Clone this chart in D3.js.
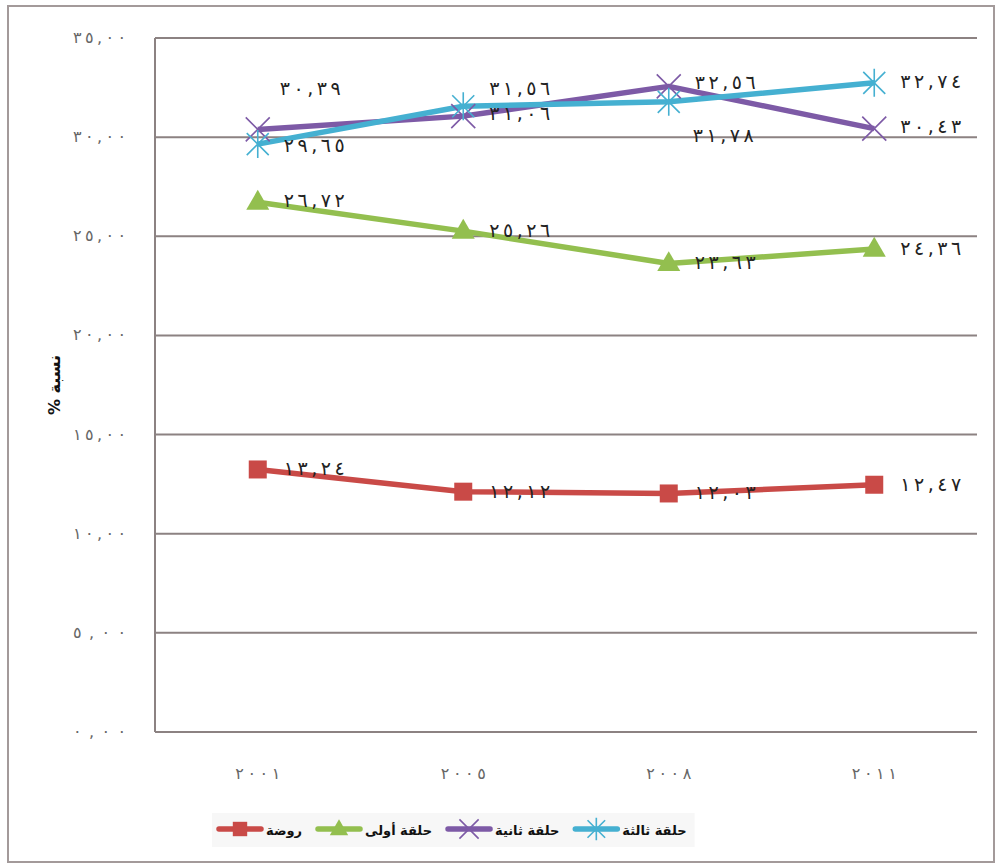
<!DOCTYPE html>
<html lang="ar">
<head>
<meta charset="UTF-8">
<title>نسبة %</title>
<script src="https://d3js.org/d3.v7.min.js"></script>
<style>
  body { margin: 0; background: #fff; }
  svg { display: block; font-family: "DejaVu Sans", sans-serif; }
  .grid line { stroke: #8c8282; stroke-width: 2; }
  .tick-label { fill: #666; font-size: 16px; }
  .val { fill: #222; font-size: 19px; }
</style>
</head>
<body>
<svg id="chart" width="1000" height="868"></svg>
<script>
// data
const years = ["2001", "2005", "2008", "2011"];
const seriesNames = ["روضة", "حلقة أولى", "حلقة ثانية", "حلقة ثالثة"];
const rawda  = [13.24, 12.12, 12.03, 12.47];
const cycle1 = [26.72, 25.26, 23.63, 24.36];
const cycle2 = [30.39, 31.06, 32.56, 30.43];
const cycle3 = [29.65, 31.56, 31.78, 32.74];
const yTicks = [0, 5, 10, 15, 20, 25, 30, 35];

// styling per series
const colors = ["#c94a47", "#93bf4f", "#7d5aa6", "#45b0d1"];
const markers = ["square", "triangle", "x", "star"];
// label offsets [dx, dy] from each point
const labelOffset = [
  [[26, 6], [26, 6], [26, 6], [26, 6]],
  [[26, 5], [26, 6], [26, 6], [26, 6]],
  [[22, -34], [26, 4], [26, 3], [26, 4]],
  [[26, 8], [26, -11], [24, 40], [26, 5]]
];

const allSeries = [rawda, cycle1, cycle2, cycle3];

const arabicDigits = "٠١٢٣٤٥٦٧٨٩";
const toArabic = s => String(s).replace(/[0-9]/g, d => arabicDigits[+d]);
const fmt = v => toArabic(d3.format(".2f")(v).replace(".", ","));

const svg = d3.select("#chart");
const margin = { left: 155, right: 23, top: 38, bottom: 136 };
const W = 1000, H = 868;

// outer frame
svg.append("rect")
  .attr("x", 8).attr("y", 6).attr("width", 986).attr("height", 856)
  .attr("fill", "none").attr("stroke", "#a39a9a").attr("stroke-width", 2);

const x = d3.scaleBand().domain(years).range([margin.left, W - margin.right]);
const y = d3.scaleLinear().domain([0, 35]).range([H - margin.bottom, margin.top]);

// gridlines
const grid = svg.append("g").attr("class", "grid");
grid.selectAll("line").data(yTicks).join("line")
  .attr("x1", margin.left).attr("x2", W - margin.right)
  .attr("y1", d => y(d)).attr("y2", d => y(d));
grid.append("line")
  .attr("x1", margin.left).attr("x2", margin.left)
  .attr("y1", y(0)).attr("y2", y(35));

// y tick labels (digits spread out like the original)
svg.append("g").selectAll("text").data(yTicks).join("text")
  .attr("class", "tick-label")
  .attr("x", 126).attr("y", d => y(d) + 5)
  .attr("text-anchor", "end")
  .attr("textLength", 53).attr("lengthAdjust", "spacing")
  .text(d => fmt(d));

// x tick labels
svg.append("g").selectAll("text").data(years).join("text")
  .attr("class", "tick-label")
  .attr("x", d => x(d) + x.bandwidth() / 2)
  .attr("y", y(0) + 47)
  .attr("text-anchor", "middle")
  .attr("textLength", 45).attr("lengthAdjust", "spacing")
  .text(d => toArabic(d));

// y axis title
svg.append("text")
  .attr("transform", `translate(60, ${y(17.5)}) rotate(-90)`)
  .attr("text-anchor", "middle")
  .attr("direction", "rtl")
  .attr("font-size", 16).attr("font-weight", "bold").attr("fill", "#111")
  .text("نسبة %");

function drawMarker(g, type, color, k = 1) {
  if (type === "square") {
    g.append("rect").attr("x", -9 * k).attr("y", -9 * k).attr("width", 18 * k).attr("height", 18 * k)
      .attr("fill", color);
  } else if (type === "triangle") {
    g.append("path").attr("d", d3.symbol(d3.symbolTriangle, 230 * k * k)()).attr("fill", color)
      .attr("transform", "translate(0,1)");
  } else if (type === "x") {
    const r = 12 * k;
    g.append("path").attr("d", `M${-r},${-r}L${r},${r}M${-r},${r}L${r},${-r}`)
      .attr("stroke", color).attr("stroke-width", 1.6).attr("fill", "none");
  } else {
    const r = 11 * k, v = 14 * k;
    g.append("path").attr("d", `M${-r},${-r}L${r},${r}M${-r},${r}L${r},${-r}M0,${-v}L0,${v}`)
      .attr("stroke", color).attr("stroke-width", 1.6).attr("fill", "none");
  }
}

const cx = d => x(d) + x.bandwidth() / 2;
const line = d3.line().x((d, i) => cx(years[i])).y(d => y(d));

allSeries.forEach((vals, s) => {
  svg.append("path").datum(vals)
    .attr("d", line)
    .attr("fill", "none")
    .attr("stroke", colors[s])
    .attr("stroke-width", 5.5)
    .attr("stroke-linejoin", "round");
});

allSeries.forEach((vals, s) => {
  vals.forEach((v, i) => {
    const g = svg.append("g").attr("transform", `translate(${cx(years[i])},${y(v)})`);
    drawMarker(g, markers[s], colors[s]);
  });
});

allSeries.forEach((vals, s) => {
  vals.forEach((v, i) => {
    const [dx, dy] = labelOffset[s][i];
    svg.append("text").attr("class", "val")
      .attr("x", cx(years[i]) + dx)
      .attr("y", y(v) + dy)
      .attr("textLength", 61).attr("lengthAdjust", "spacing")
      .text(fmt(v));
  });
});

// legend
const legend = svg.append("g");
const legBox = legend.append("rect")
  .attr("y", 813).attr("height", 34)
  .attr("fill", "#f7f7f7");
let lx = 219;
seriesNames.forEach((name, s) => {
  const ly = 829;
  legend.append("line")
    .attr("x1", lx).attr("x2", lx + 42)
    .attr("y1", ly).attr("y2", ly)
    .attr("stroke", colors[s]).attr("stroke-width", 5.5)
    .attr("stroke-linecap", "round");
  const mg = legend.append("g").attr("transform", `translate(${lx + 21},${ly})`);
  drawMarker(mg, markers[s], colors[s], 0.8);
  const t = legend.append("text")
    .attr("x", lx + 47).attr("y", ly + 6)
    .attr("font-size", 13).attr("font-weight", "bold").attr("fill", "#111")
    .text(name);
  lx += 47 + t.node().getComputedTextLength() + 16;
});
legBox.attr("x", 212).attr("width", lx - 212 - 8);
</script>
</body>
</html>
